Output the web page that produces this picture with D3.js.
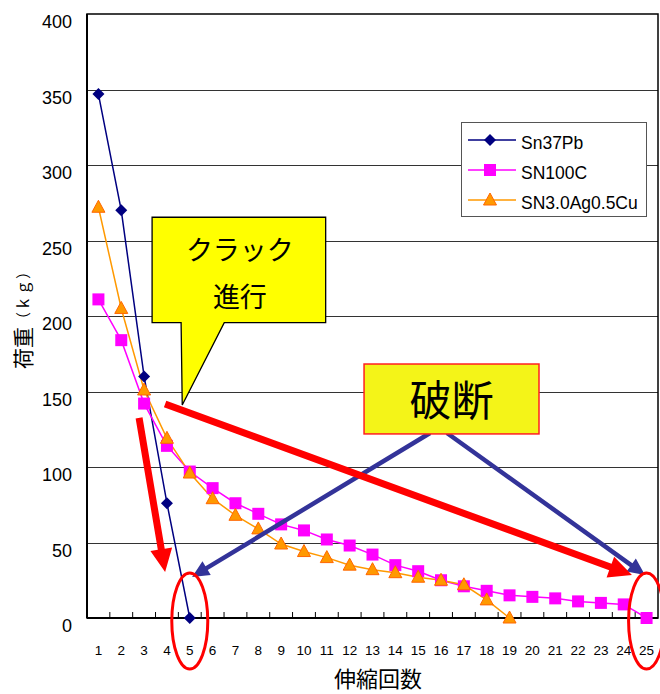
<!DOCTYPE html>
<html><head><meta charset="utf-8">
<script src="https://cdn.jsdelivr.net/npm/d3@7"></script>
<style>body{margin:0;background:#fff}svg{display:block}</style>
</head><body>
<svg id="c" width="660" height="694"></svg>
<script>
// ---- data ----
const categories = ["1","2","3","4","5","6","7","8","9","10","11","12","13","14","15","16","17","18","19","20","21","22","23","24","25"];
const seriesNames = ["Sn37Pb","SN100C","SN3.0Ag0.5Cu"];
const sn37pb = [347,270,160,76,0];
const sn100c = [211,184,142,114,97,86,76,69,62,58,52,48,42,35,31,25,21,18,15,14,13,11,10,9,0];
const snAgCu = [272,205,151,119,96,79,68,59,49,44,40,35,32,30,27,25,22,12,0];
const yTicks = [0,50,100,150,200,250,300,350,400];
const yTitle = "荷重";
const yUnit = "（ｋｇ）";
const xTitle = "伸縮回数";
const calloutText = ["クラック","進行"];
const breakText = "破断";
// annotation anchors in data units [category position, kg]
const calloutBox = [3.35, 10.95, 265.4, 195.6];
const calloutPointer = [4.62, 6.51, 4.67, 141.1];
const breakBox = [12.63, 20.29, 168.2, 121.9];
const redArrows = [[2.78,132.5,3.92,30.5],[3.92,141.7,24.36,28.5]];
const blueArrows = [[15.52,122.5,5.10,27.2],[16.26,122.5,24.93,28.5]];
const circled = ["5","25"];

// ---- layout ----
const W=660,H=694;
const m={l:87,r:2,t:14,b:76};
const svg=d3.select("#c");
const x=d3.scaleBand().domain(categories).range([m.l,W-m.r]).paddingInner(0).paddingOuter(0);
const xl=d3.scaleLinear().domain([0.5,categories.length+0.5]).range([m.l,W-m.r]);
const y=d3.scaleLinear().domain([0,400]).range([H-m.b,m.t]);
const cx=c=>x(c)+x.bandwidth()/2;
const FONT="'Liberation Sans', Arial, sans-serif";
const CJK="'Noto Sans CJK JP', sans-serif";
const colors=["#000080","#FF00FF","#FF9900"];

// gridlines
svg.append("g").selectAll("line").data(yTicks.filter(d=>d>0&&d<400)).join("line")
  .attr("x1",m.l).attr("x2",W-m.r).attr("y1",d=>Math.round(y(d))+0.5).attr("y2",d=>Math.round(y(d))+0.5)
  .attr("stroke","#333").attr("stroke-width",1);
// frame
svg.append("rect").attr("x",m.l).attr("y",m.t).attr("width",W-m.r-m.l).attr("height",y(0)-m.t)
  .attr("fill","none").attr("stroke","#000").attr("stroke-width",1.5);
svg.append("line").attr("x1",m.l).attr("x2",m.l).attr("y1",m.t).attr("y2",y(0)).attr("stroke","#000").attr("stroke-width",2);
svg.append("line").attr("x1",m.l).attr("x2",W-m.r).attr("y1",y(0)).attr("y2",y(0)).attr("stroke","#000").attr("stroke-width",2);
// x ticks (inside, at band boundaries)
svg.append("g").selectAll("line").data(categories.slice(1)).join("line")
  .attr("x1",d=>x(d)).attr("x2",d=>x(d)).attr("y1",y(0)).attr("y2",y(0)-6)
  .attr("stroke","#000").attr("stroke-width",1);
// y tick labels
svg.append("g").selectAll("text").data(yTicks).join("text")
  .attr("x",72).attr("y",d=>y(d)+14).attr("text-anchor","end")
  .attr("font-family",FONT).attr("font-size",18).attr("fill","#000").text(d=>d);
// x tick labels
svg.append("g").selectAll("text").data(categories).join("text")
  .attr("x",cx).attr("y",655).attr("text-anchor","middle")
  .attr("font-family",FONT).attr("font-size",13.5).attr("fill","#000").text(d=>d);
// axis titles
svg.append("text").attr("x",378).attr("y",687).attr("text-anchor","middle")
  .attr("font-family",CJK).attr("font-size",22).attr("fill","#000").text(xTitle);
const yt=svg.append("text").attr("transform","translate(22,316) rotate(-90)").attr("text-anchor","middle")
  .attr("dominant-baseline","central").attr("font-family",CJK).attr("fill","#000");
yt.append("tspan").attr("font-size",21).text(yTitle);
yt.append("tspan").attr("font-size",15).attr("letter-spacing",1).text(yUnit);

// markers
function marker(g,type,color){
  if(type===0) g.append("path").attr("d","M0,-6L6,0L0,6L-6,0Z").attr("fill",color);
  else if(type===1) g.append("rect").attr("x",-6).attr("y",-6).attr("width",12).attr("height",12).attr("fill",color);
  else g.append("path").attr("d","M0,-7L6.5,5L-6.5,5Z").attr("fill",color).attr("stroke","#FF6600").attr("stroke-width",1);
}
const allSeries=[sn37pb,sn100c,snAgCu];
const line=d3.line().x((d,i)=>cx(categories[i])).y(d=>y(d));
allSeries.forEach((s,k)=>{
  svg.append("path").attr("d",line(s)).attr("fill","none").attr("stroke",colors[k]).attr("stroke-width",1.5);
});
allSeries.forEach((s,k)=>{
  s.forEach((v,i)=>{
    const g=svg.append("g").attr("transform",`translate(${cx(categories[i])},${y(v)})`);
    marker(g,k,colors[k]);
  });
});

// legend
const lg=svg.append("g");
lg.append("rect").attr("x",461.5).attr("y",122.5).attr("width",185).attr("height",94)
  .attr("fill","#fff").attr("stroke","#555").attr("stroke-width",1);
seriesNames.forEach((n,k)=>{
  const yy=140+k*30;
  lg.append("line").attr("x1",468).attr("x2",516).attr("y1",yy).attr("y2",yy).attr("stroke",colors[k]).attr("stroke-width",1.5);
  marker(lg.append("g").attr("transform",`translate(490,${yy})`),k,colors[k]);
  lg.append("text").attr("x",521).attr("y",yy+9).attr("font-family",FONT).attr("font-size",17.5).attr("fill","#000").text(n);
});

// arrows
function arrowPts(x0,y0,x1,y1,w,hl,hw){
  const dx=x1-x0,dy=y1-y0,L=Math.hypot(dx,dy),ux=dx/L,uy=dy/L,px=-uy,py=ux;
  const bx=x1-ux*hl,by=y1-uy*hl;
  return [[x0+px*w/2,y0+py*w/2],[bx+px*w/2,by+py*w/2],[bx+px*hw/2,by+py*hw/2],[x1,y1],
    [bx-px*hw/2,by-py*hw/2],[bx-px*w/2,by-py*w/2],[x0-px*w/2,y0-py*w/2]];
}
blueArrows.forEach(a=>{
  svg.append("polygon").attr("points",arrowPts(xl(a[0]),y(a[1]),xl(a[2]),y(a[3]),4.5,17,16).join(" "))
    .attr("fill","#333399");
});
redArrows.forEach(a=>{
  svg.append("polygon").attr("points",arrowPts(xl(a[0]),y(a[1]),xl(a[2]),y(a[3]),7,23,22).join(" "))
    .attr("fill","#FF0000");
});

// callout
const [bx0,bx1,byT,byB]=calloutBox;
const [pl,pr,tx,ty]=calloutPointer;
const cp=[[xl(bx0),y(byT)],[xl(bx1),y(byT)],[xl(bx1),y(byB)],[xl(pr),y(byB)],[xl(tx),y(ty)],[xl(pl),y(byB)],[xl(bx0),y(byB)]];
svg.append("polygon").attr("points",cp.join(" ")).attr("fill","#FFFF00").attr("stroke","#000").attr("stroke-width",1.3);
calloutText.forEach((t,i)=>{
  svg.append("text").attr("x",(xl(bx0)+xl(bx1))/2+1).attr("y",y(byT)+43+i*47).attr("text-anchor","middle")
    .attr("font-family",CJK).attr("font-size",27).attr("fill","#000").text(t);
});
// break box
svg.append("rect").attr("x",xl(breakBox[0])).attr("y",y(breakBox[2])).attr("width",xl(breakBox[1])-xl(breakBox[0]))
  .attr("height",y(breakBox[3])-y(breakBox[2])).attr("fill","#F4F418").attr("stroke","#FF2020").attr("stroke-width",1.5);
svg.append("text").attr("x",(xl(breakBox[0])+xl(breakBox[1]))/2).attr("y",y(breakBox[2])+52).attr("text-anchor","middle")
  .attr("font-family",CJK).attr("font-size",42).attr("fill","#000").text(breakText);

// red ellipses
svg.append("g").selectAll("ellipse").data(circled).join("ellipse")
  .attr("cx",cx).attr("cy",y(0)+3).attr("rx",18).attr("ry",48)
  .attr("fill","none").attr("stroke","#FF0000").attr("stroke-width",3);
</script>
</body></html>
